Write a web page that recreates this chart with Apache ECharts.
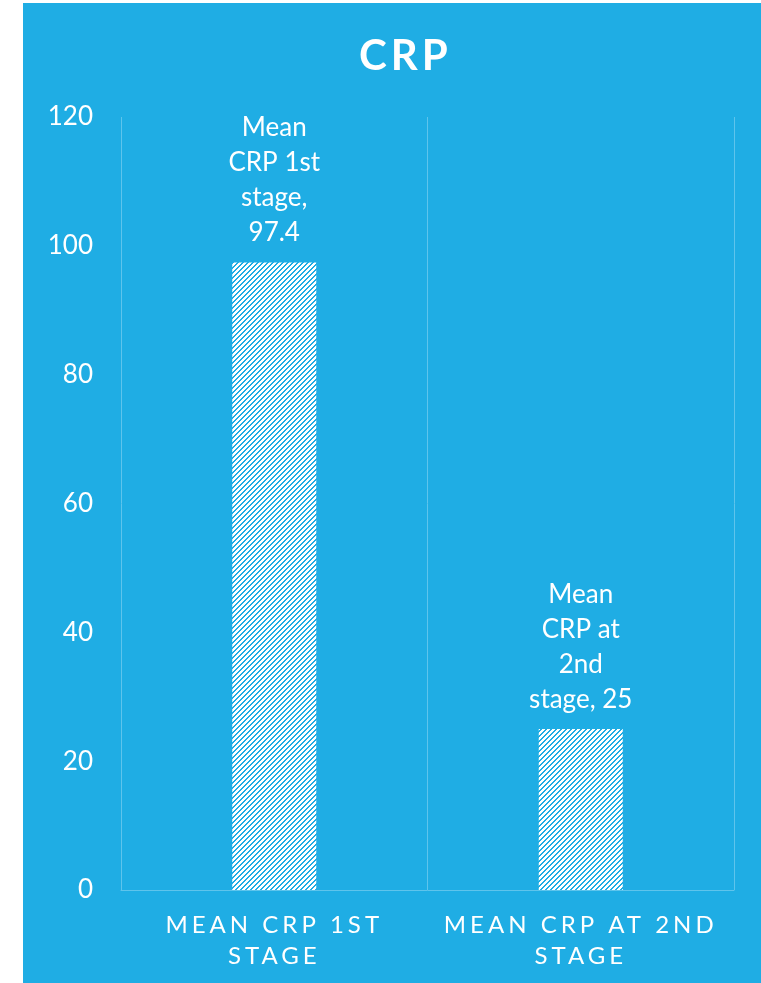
<!DOCTYPE html>
<html>
<head>
<meta charset="utf-8">
<script src="https://cdn.jsdelivr.net/npm/echarts@6/dist/echarts.min.js"></script>
<style>
  html, body { margin: 0; padding: 0; background: #fff; }
  #main { width: 761px; height: 983px; }
</style>
</head>
<body>
<div id="main"></div>
<script>
// data
const categories = ["MEAN CRP 1ST\nSTAGE", "MEAN CRP AT 2ND\nSTAGE"];
const values = [97.4, 25];
const barLabels = ["Mean\nCRP 1st\nstage,\n97.4", "Mean\nCRP at\n2nd\nstage, 25"];
const yTicks = { min: 0, max: 120, interval: 20 };

const blue = "rgb(31,173,228)";
const lineBlue = "#5EC4EC";
const font = "Lato, 'DejaVu Sans', sans-serif";

// the original uses a spaced-out gothic font; add canvas letter spacing
// for the category labels (24px) and the title (42px)
const _fillText = CanvasRenderingContext2D.prototype.fillText;
CanvasRenderingContext2D.prototype.fillText = function (t, x, y, w) {
    if ("letterSpacing" in this) {
        let f = this.font;
        if (f.indexOf("24px") >= 0) this.letterSpacing = "4px";
        else if (f.indexOf("42px") >= 0) this.letterSpacing = "4px";
        else this.letterSpacing = "0px";
    }
    return w === undefined ? _fillText.call(this, t, x, y) : _fillText.call(this, t, x, y, w);
};

// hatched fill: white with blue upward diagonals
function hatch() {
    let n = 5;
    let c = document.createElement("canvas");
    c.width = n; c.height = n;
    let ctx = c.getContext("2d");
    let img = ctx.createImageData(n, n);
    for (let yy = 0; yy < n; yy++) {
        for (let xx = 0; xx < n; xx++) {
            let d = (xx + yy) % n;
            let on = d === n - 1 || d === 0;
            let k = (yy * n + xx) * 4;
            img.data[k] = on ? 31 : 255;
            img.data[k + 1] = on ? 173 : 255;
            img.data[k + 2] = on ? 228 : 255;
            img.data[k + 3] = 255;
        }
    }
    ctx.putImageData(img, 0, 0);
    return c;
}

let myChart = echarts.init(document.getElementById("main"));
myChart.setOption({
    backgroundColor: "#fff",
    animation: false,
    // blue panel
    graphic: [{
        type: "rect",
        left: 23, top: 3, z: -10,
        shape: { width: 738, height: 980 },
        style: { fill: blue }
    }],
    title: {
        text: "CRP",
        left: 354,
        top: 30,
        textStyle: { color: "#fff", fontSize: 42, fontWeight: "bold", fontFamily: font }
    },
    grid: { left: 121, right: 27, top: 117, bottom: 93 },
    xAxis: {
        type: "category",
        data: categories,
        axisLine: { lineStyle: { color: lineBlue, width: 1 } },
        axisTick: { show: false },
        splitLine: { show: true, lineStyle: { color: lineBlue, width: 1 } },
        axisLabel: {
            color: "#fff",
            fontSize: 24,
            lineHeight: 31,
            margin: 20,
            fontFamily: font
        }
    },
    yAxis: {
        type: "value",
        min: yTicks.min,
        max: yTicks.max,
        interval: yTicks.interval,
        axisLine: { show: false },
        axisTick: { show: false },
        splitLine: { show: false },
        axisLabel: { color: "#fff", fontSize: 26, margin: 28, fontFamily: font }
    },
    series: [{
        type: "bar",
        barWidth: 84,
        data: values,
        itemStyle: { color: { image: hatch(), repeat: "repeat" } },
        label: {
            show: true,
            position: "top",
            distance: 12,
            color: "#fff",
            fontSize: 26,
            lineHeight: 35,
            fontFamily: font,
            formatter: p => barLabels[p.dataIndex]
        }
    }]
});
</script>
</body>
</html>
